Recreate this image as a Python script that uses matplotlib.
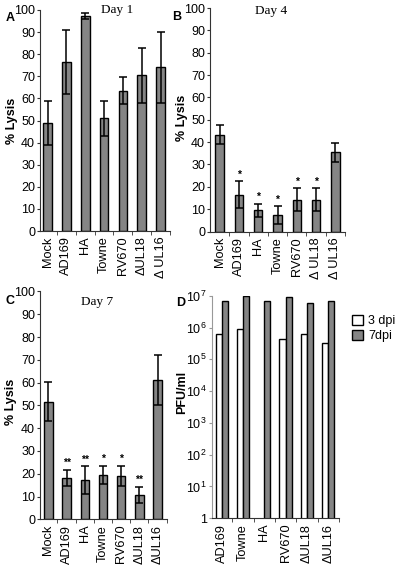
import numpy as np
import matplotlib
matplotlib.use("Agg")
import matplotlib.pyplot as plt
from matplotlib.patches import Patch

plt.rcParams['font.family'] = ['Liberation Sans', 'DejaVu Sans']

# ---------------- data ----------------
labels_a = ["Mock", "AD169", "HA", "Towne", "RV670", "\u0394UL18", "\u0394 UL16"]
day1_mean = [49, 76.5, 97.3, 51, 63.5, 70.5, 74]
day1_err = [10, 14.5, 1.2, 8, 6.2, 12.5, 16]

labels_b = ["Mock", "AD169", "HA", "Towne", "RV670", "\u0394 UL18", "\u0394 UL16"]
day4_mean = [43.3, 16.4, 9.6, 7.3, 14.3, 14.3, 35.4]
day4_err = [4.2, 6, 2.9, 4, 5, 5, 4.4]
day4_sig = ["", "*", "*", "*", "*", "*", ""]

labels_c = ["Mock", "AD169", "HA", "Towne", "RV670", "\u0394UL18", "\u0394UL16"]
day7_mean = [51.7, 18.2, 17.2, 19.5, 19.0, 10.7, 61.2]
day7_err = [8.5, 3.4, 6, 4, 4.4, 3.5, 11]
day7_sig = ["", "**", "**", "*", "*", "**", ""]

labels_d = ["AD169", "Towne", "HA", "RV670", "\u0394UL18", "\u0394UL16"]
pfu_3dpi = [6.2e5, 8.7e5, np.nan, 4.2e5, 6.2e5, 3.2e5]
pfu_7dpi = [6.9e6, 9.8e6, 6.8e6, 8.9e6, 6.0e6, 6.9e6]
yticks_lysis = [0, 10, 20, 30, 40, 50, 60, 70, 80, 90, 100]

W, H = 400, 574
fig = plt.figure(figsize=(W / 100, H / 100), dpi=100)

BAR = "#858585"
YTFS = 9
XTFS = 9.2
SPINE = "#333333"


def box(l, t, r, b):
    return [l / W, 1 - b / H, (r - l) / W, (b - t) / H]


def style(ax, labels, xlim, spine=SPINE):
    for s in ["top", "right"]:
        ax.spines[s].set_visible(False)
    ax.spines["left"].set_color(spine)
    ax.spines["bottom"].set_color(SPINE)
    n = len(labels)
    ax.set_xlim(*xlim)
    ax.set_xticks(np.arange(n))
    ax.set_xticklabels(labels, rotation=90, fontsize=XTFS)
    ax.tick_params(axis="x", which="major", length=0, pad=4)
    ax.set_xticks(np.arange(n) + 0.5, minor=True)
    ax.tick_params(axis="x", which="minor", length=3, direction="out", color=SPINE)
    ax.tick_params(axis="y", length=2.5, pad=1, labelsize=YTFS, color=spine)


def lysis(ax, labels, mean, err, xlim, width, title, tx, ty, lab_xy, sig=None):
    x = np.arange(len(labels))
    ax.bar(x, mean, width=width, color=BAR, edgecolor="black", linewidth=1.0, zorder=2)
    ax.errorbar(x, mean, yerr=err, fmt="none", ecolor="black", elinewidth=1.1,
                capsize=3, capthick=1.1, zorder=3)
    ax.set_ylim(0, 100)
    ax.set_yticks(yticks_lysis)
    style(ax, labels, xlim)
    ax.set_ylabel("% Lysis", fontsize=9, fontweight="bold")
    ax.yaxis.set_label_coords(*lab_xy)
    ax.text(tx, ty, title, family=["Liberation Serif"], fontsize=9.5, ha="center", va="center")
    if sig is not None:
        for xi, m, e, s in zip(x, mean, err, sig):
            if s:
                ax.text(xi, m + e + 0.8, s, ha="center", va="bottom", fontsize=7.5, fontweight="bold")


# Panel A
axA = fig.add_axes(box(40, 10, 170, 231))
lysis(axA, labels_a, day1_mean, day1_err, (-0.4, 6.45), 0.46, "Day 1", 3.7, 100, (-0.17, 0.5))
# Panel B
axB = fig.add_axes(box(210, 8, 345, 231.5))
lysis(axB, labels_b, day4_mean, day4_err, (-0.5, 6.5), 0.43, "Day 4", 2.67, 98.7, (-0.163, 0.51), day4_sig)
# Panel C
axC = fig.add_axes(box(40, 291.5, 166.7, 519.3))
lysis(axC, labels_c, day7_mean, day7_err, (-0.46, 6.46), 0.455, "Day 7", 2.68, 95.3, (-0.18, 0.515), day7_sig)

# Panel D
axD = fig.add_axes(box(211.5, 295.7, 338.8, 518.3))
xd = np.arange(len(labels_d))
bw = 0.29
axD.bar(xd - bw / 2, pfu_3dpi, width=bw, color="white", edgecolor="black", linewidth=1.0,
        label="3 dpi", zorder=2)
axD.bar(xd + bw / 2, pfu_7dpi, width=bw, color=BAR, edgecolor="black", linewidth=1.0,
        label="7dpi", zorder=2)
axD.set_yscale("log")
axD.set_ylim(1, 1e7)
axD.set_yticks([1, 1e1, 1e2, 1e3, 1e4, 1e5, 1e6, 1e7])
axD.set_yticklabels(["1"] + [r"$\mathregular{10^{%d}}$" % k for k in range(1, 8)])
axD.yaxis.set_minor_locator(matplotlib.ticker.NullLocator())
style(axD, labels_d, (-0.48, 5.5), spine="#999999")
axD.set_ylabel("PFU/ml", fontsize=9, fontweight="bold")
axD.yaxis.set_label_coords(-0.185, 0.567)

fig.legend(handles=[Patch(facecolor="white", edgecolor="black", label="3 dpi"),
                    Patch(facecolor=BAR, edgecolor="black", label="7dpi")],
           loc="upper left", bbox_to_anchor=(348 / W, 1 - 311 / H), frameon=False,
           fontsize=9, handlelength=0.9, handleheight=0.9, handletextpad=0.4,
           labelspacing=0.2, borderaxespad=0, borderpad=0.3)

# panel letters
for lx, ly, s in [(10, 18, "A"), (176.5, 17, "B"), (10.5, 301, "C"), (181, 303, "D")]:
    fig.text(lx / W, 1 - ly / H, s, fontsize=9, fontweight="bold", ha="center", va="center")

fig.savefig("out.png", dpi=100)
